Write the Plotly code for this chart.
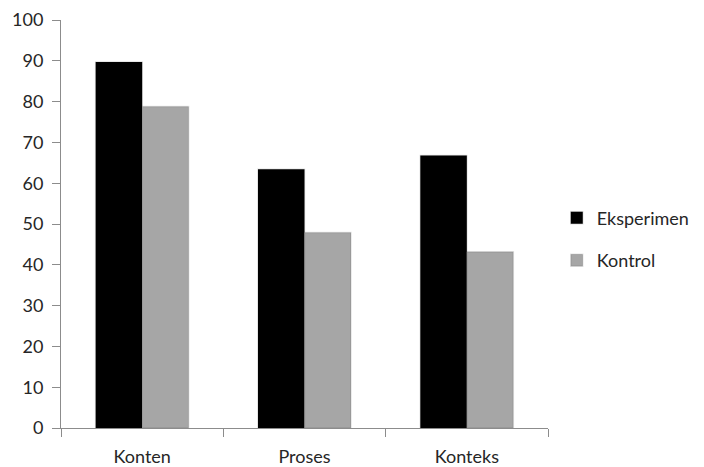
import plotly.graph_objects as go

categories = ["Konten", "Proses", "Konteks"]
eksperimen = [89.7, 63.4, 66.8]
kontrol = [78.8, 47.9, 43.2]
series_names = ["Eksperimen", "Kontrol"]

axis_color = "#8c8c8c"
font_family = "Lato, 'Open Sans', sans-serif"

fig = go.Figure()
fig.add_trace(go.Bar(
    x=categories, y=eksperimen, name=series_names[0],
    marker=dict(color="#000000", line=dict(color="rgba(0,0,0,0.12)", width=1.5)),
    legendgroup="a",
))
fig.add_trace(go.Bar(
    x=categories, y=kontrol, name=series_names[1],
    marker=dict(color="#a6a6a6", line=dict(color="rgba(0,0,0,0.10)", width=1.5)),
    legendgroup="b",
))

fig.update_layout(
    width=704, height=467,
    margin=dict(l=61, r=156, t=20, b=39, autoexpand=False),
    paper_bgcolor="white", plot_bgcolor="white",
    barmode="group", bargap=0.427, bargroupgap=0,
    font=dict(family=font_family, size=18, color="#262626"),
    showlegend=True,
    legend=dict(
        x=1.018, xanchor="left", xref="paper",
        y=0.463, yanchor="middle",
        traceorder="grouped", tracegroupgap=16,
        font=dict(size=18, color="#262626"),
        itemwidth=30,
    ),
)
fig.update_xaxes(
    showline=True, linecolor=axis_color, linewidth=1,
    ticks="outside", ticklen=8, tickcolor=axis_color,
    tickson="boundaries", showgrid=False, zeroline=False,
    ticklabelstandoff=12, automargin=False,
)
fig.update_yaxes(
    range=[0, 100], dtick=10,
    showline=True, linecolor=axis_color, linewidth=1,
    ticks="outside", ticklen=8, tickcolor=axis_color,
    showgrid=False, zeroline=False,
    ticklabelstandoff=5, automargin=False,
)

fig.write_html("out.html")
